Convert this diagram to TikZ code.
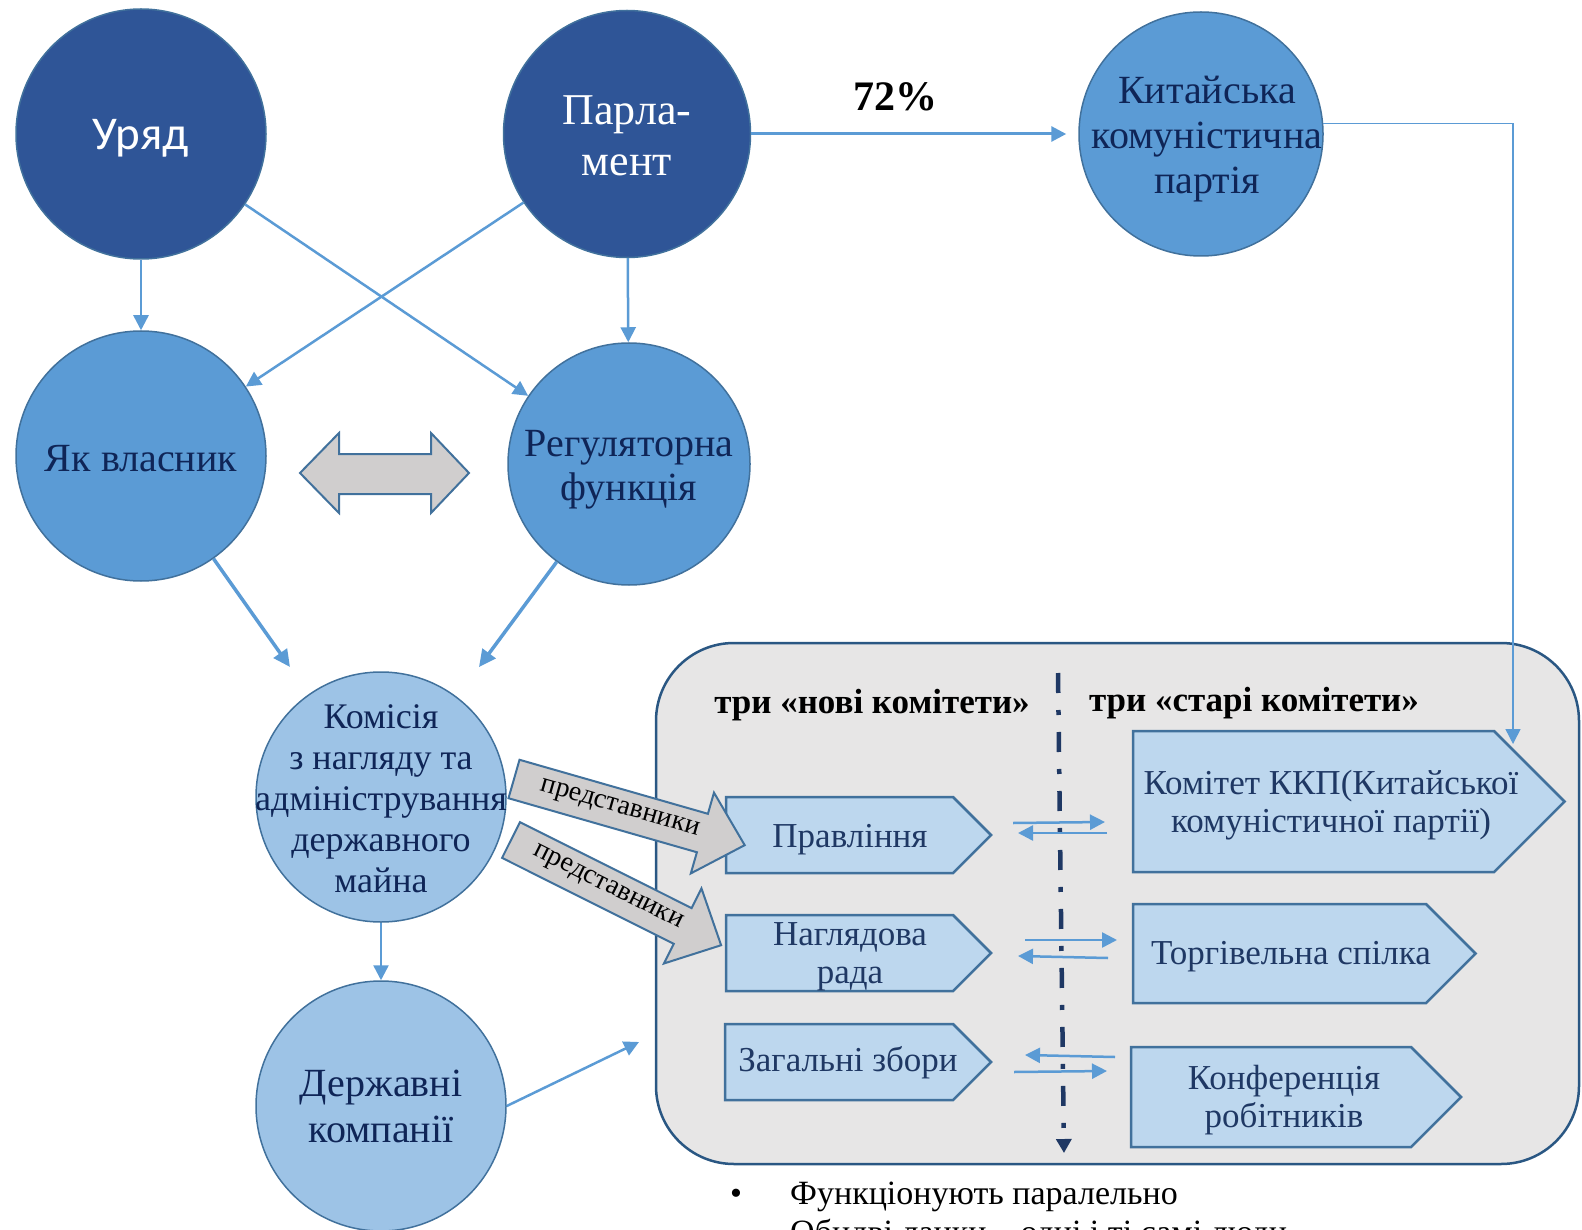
\documentclass[tikz,border=0pt]{standalone}
\usepackage{fontspec}
\setmainfont{Liberation Serif}
\newfontfamily\sansfont{Carlito}
\usetikzlibrary{arrows.meta}

\definecolor{darkBlue}{HTML}{2F5597}
\definecolor{midBlue}{HTML}{5B9BD5}
\definecolor{lightBlue}{HTML}{9DC3E6}
\definecolor{paleBlue}{HTML}{BDD7EE}
\definecolor{borderBlue}{HTML}{41719C}
\definecolor{boxBorder}{HTML}{2A5783}
\definecolor{boxGrey}{HTML}{E7E6E6}
\definecolor{arrowGrey}{HTML}{D0CECE}
\definecolor{textNavy}{HTML}{0F2557}
\definecolor{commNavy}{HTML}{1F3864}

\begin{document}
\begin{tikzpicture}[x=1pt, y=-1pt]
        \tikzstyle{circleStyle} = [circle, draw=borderBlue, line width=1.5pt, inner sep=0pt]
        \tikzstyle{labelStyle} = [align=center, inner sep=0pt, text=textNavy]
        \tikzstyle{blueEdge} = [draw=midBlue, line width=2.5pt, -{Triangle[length=15pt,width=15pt]}]
        \tikzstyle{thickEdge} = [draw=midBlue, line width=3.5pt, -{Triangle[length=17pt,width=16pt]}]
        \tikzstyle{commBox} = [draw=borderBlue, line width=2.5pt, fill=paleBlue]
        \tikzstyle{commText} = [text=commNavy, align=center, inner sep=0pt, font=\fontsize{35}{38}\selectfont]
        \tikzstyle{headText} = [inner sep=0pt, font=\bfseries\fontsize{35}{38}\selectfont]
        \tikzstyle{greyArrow} = [draw=borderBlue, line width=2pt, fill=arrowGrey]
        \tikzstyle{arrowText} = [inner sep=0pt, font=\fontsize{28}{30}\selectfont]
        \tikzstyle{pctText} = [inner sep=0pt, font=\bfseries\fontsize{42}{45}\selectfont]
        \tikzstyle{bottomText} = [inner sep=0pt, font=\fontsize{34}{40}\selectfont]

        \useasboundingbox (0,0) rectangle (1582,1230);

        % panel with the committees
        \draw[draw=boxBorder, line width=2.5pt, fill=boxGrey, rounded corners=78pt]
            (656,643) rectangle (1579,1164);
        \foreach \xa/\xb/\ya/\yb in {726/953/797/873, 726/953/915/991, 725/953/1024/1100,
                                     1133/1494/731/872, 1133/1426/904/1003, 1131/1411/1047/1147}
            \draw[commBox] (\xa,\ya) -- (\xb,\ya) -- ({\xb+(\yb-\ya)/2},{(\ya+\yb)/2})
                -- (\xb,\yb) -- (\xa,\yb) -- cycle;
        \node[commText, anchor=base] (8) at (850,847) {Правління};
        \node[commText] (9) at (850,957) {Наглядова\\рада};
        \node[commText, anchor=base] (10) at (848,1071) {Загальні збори};
        \node[commText] (11) at (1331,805) {Комітет ККП(Китайської\\комуністичної партії)};
        \node[commText, anchor=base] (12) at (1291,964) {Торгівельна спілка};
        \node[commText] (13) at (1284,1100) {Конференція\\робітників};
        \node[headText, anchor=base] (new) at (872,713) {три «нові комітети»};
        \node[headText, anchor=base] (old) at (1254,711) {три «старі комітети»};

        % divider and the small arrows
        \coordinate (divTop) at (1058,673);
        \coordinate (divEnd) at (1064,1153);
        \draw[draw=commNavy, line width=4.5pt, dash pattern=on 20pt off 17pt on 5pt off 17pt,
            -{Triangle[length=14pt,width=15pt]}] (divTop) -- (divEnd);
        \foreach \i/\xa/\ya/\xb/\yb in {1/1013/823/1105/822, 2/1107/833/1018/833,
                3/1025/940/1117/940, 4/1108/958/1018/956,
                5/1115/1057/1025/1055, 6/1014/1072/1107/1071} {
            \coordinate (s\i) at (\xa,\ya);
            \coordinate (e\i) at (\xb,\yb);
            \draw[blueEdge] (s\i) -- (e\i);
        }

        % block arrows
        \draw[greyArrow] (300,473) -- (339,433) -- (339,454) -- (431,454) -- (431,433)
            -- (469,473) -- (431,513) -- (431,494) -- (339,494) -- (339,513) -- cycle;
        \begin{scope}[shift={(514,779)}, rotate=-16]
            \draw[greyArrow] (0,-20) -- (196,-20) -- (196,-42) -- (240,0) -- (196,42)
                -- (196,20) -- (0,20) -- cycle;
            \node[arrowText, rotate=-16] (rep1) at (110,0) {представники};
        \end{scope}
        \begin{scope}[shift={(511,840)}, rotate=-26.6]
            \draw[greyArrow] (0,-20) -- (192,-20) -- (192,-42) -- (235,0) -- (192,42)
                -- (192,20) -- (0,20) -- cycle;
            \node[arrowText, rotate=-26.6] (rep2) at (108,0) {представники};
        \end{scope}

        \node[circleStyle, fill=darkBlue, minimum size=250pt,
            label={[labelStyle, text=white, yshift=-4pt, font=\sansfont\fontsize{47}{50}\selectfont]center:Уряд}] (1) at (141,134) {};
        \node[circleStyle, fill=darkBlue, minimum size=247pt,
            label={[labelStyle, text=white, yshift=-2pt, font=\fontsize{44}{51}\selectfont]center:Парла-\\мент}] (2) at (627,134) {};
        \node[circleStyle, fill=midBlue, minimum size=244pt,
            label={[labelStyle, xshift=6pt, yshift=-5pt, font=\fontsize{40}{45}\selectfont]center:Китайська\\комуністична\\партія}] (3) at (1201,134) {};
        \node[circleStyle, fill=midBlue, minimum size=250pt,
            label={[labelStyle, yshift=-3pt, font=\fontsize{40}{45}\selectfont]center:Як власник}] (4) at (141,456) {};
        \node[circleStyle, fill=midBlue, minimum size=242pt,
            label={[labelStyle, yshift=-6pt, font=\fontsize{40}{44}\selectfont]center:Регуляторна\\функція}] (5) at (629,464) {};
        \node[circleStyle, fill=lightBlue, minimum size=250pt,
            label={[labelStyle, yshift=-2pt, font=\fontsize{36}{41}\selectfont]center:Комісія\\з нагляду та\\адміністрування\\державного\\майна}] (6) at (381,797) {};
        \node[circleStyle, fill=lightBlue, minimum size=250pt,
            label={[labelStyle, font=\fontsize{40}{46}\selectfont]center:Державні\\компанії}] (7) at (381,1106) {};

        \foreach \from/\to in {1/4, 2/5, 1/5, 2/4, 6/7}
            \draw[blueEdge] (\from) -- (\to);
        \draw[blueEdge, line width=3pt, shorten >=12pt] (2) -- node[pctText, pos=0.44, above=21pt] {72\%} (3);

        \coordinate (c1) at (290,667);
        \coordinate (c2) at (479,667);
        \coordinate (c3) at (639,1042);
        \coordinate (c4) at (1513,744);
        \draw[thickEdge] (4) -- (c1);
        \draw[thickEdge] (5) -- (c2);
        \draw[blueEdge] (7.east) -- (c3);
        \draw[blueEdge, line width=1.5pt] (3.5) -| (c4);

        \node[bottomText, anchor=base] (dot) at (736,1204) {•};
        \node[bottomText, anchor=base west] (par) at (790,1204) {Функціонують паралельно};
        \node[bottomText, anchor=base west] (same) at (790,1243) {Обидві ланки – одні і ті самі люди};
\end{tikzpicture}
\end{document}
